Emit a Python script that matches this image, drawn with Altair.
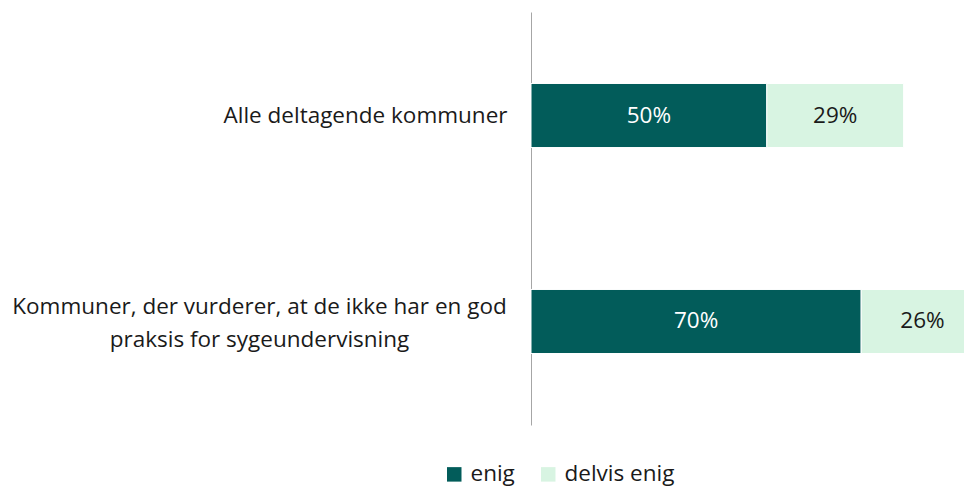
import altair as alt
import pandas as pd

categories = [
    "Alle deltagende kommuner",
    "Kommuner, der vurderer, at de ikke har en god|praksis for sygeundervisning",
]
series = ["enig", "delvis enig"]
enig = [50, 70]
delvis_enig = [29, 26]
colors = ["#025C5A", "#D8F4E2"]

rows = []
for i, c in enumerate(categories):
    rows.append({"cat": c, "serie": "enig", "order": 0, "value": enig[i]})
    rows.append({"cat": c, "serie": "delvis enig", "order": 1, "value": delvis_enig[i]})
df = pd.DataFrame(rows)
df["label"] = df["value"].astype(str) + "%"

FONT = "Open Sans"
FS = 22.5
multi = "indexof(datum.value, '|') >= 0"

base = alt.Chart(df).transform_stack(
    stack="value", as_=["x0", "x1"], groupby=["cat"], sort=[alt.SortField("order")]
).transform_calculate(mid="(datum.x0 + datum.x1) / 2")

yenc = alt.Y(
    "cat:N",
    sort=categories,
    scale=alt.Scale(paddingInner=0.689, paddingOuter=0.347),
    axis=alt.Axis(
        title=None,
        ticks=False,
        domainColor="#a6a6a6",
        domainWidth=1,
        labelFont=FONT,
        labelFontSize=FS,
        labelColor="#1a1a1a",
        labelLimit=700,
        labelLineHeight=33,
        labelExpr="split(datum.label, '|')",
        labelAlign={"condition": {"test": multi, "value": "center"}, "value": "right"},
        labelPadding={"condition": {"test": multi, "value": 272}, "value": 24},
        labelOffset={"condition": {"test": multi, "value": -14}, "value": 0},
    ),
)

xscale = alt.Scale(domain=[0, 91.8], nice=False, zero=True)

bars = base.mark_bar(stroke="white", strokeWidth=1, clip=True).encode(
    y=yenc,
    x=alt.X("x0:Q", scale=xscale, axis=None),
    x2="x1:Q",
    color=alt.Color(
        "serie:N",
        scale=alt.Scale(domain=series, range=colors),
        legend=alt.Legend(
            title=None,
            orient="none",
            direction="horizontal",
            legendX=-88,
            legendY=451,
            symbolType="square",
            symbolSize=210,
            symbolStrokeWidth=0,
            labelFont=FONT,
            labelFontSize=FS,
            labelColor="#1a1a1a",
            labelOffset=5,
            columnPadding=22,
        ),
    ),
)

text = base.mark_text(font=FONT, fontSize=FS).encode(
    y=alt.Y("cat:N", sort=categories),
    x=alt.X("mid:Q", scale=xscale),
    text="label:N",
    color=alt.condition(alt.datum.serie == "enig", alt.value("white"), alt.value("#1a1a1a")),
)

chart = (
    alt.layer(bars, text)
    .properties(
        width=433,
        height=413,
        autosize=alt.AutoSizeParams(type="none"),
        padding={"left": 523, "top": 4, "right": 0, "bottom": 66},
    )
    .configure_view(stroke=None)
)

chart.save("out.html", embed_options={"renderer": "svg", "actions": False})
